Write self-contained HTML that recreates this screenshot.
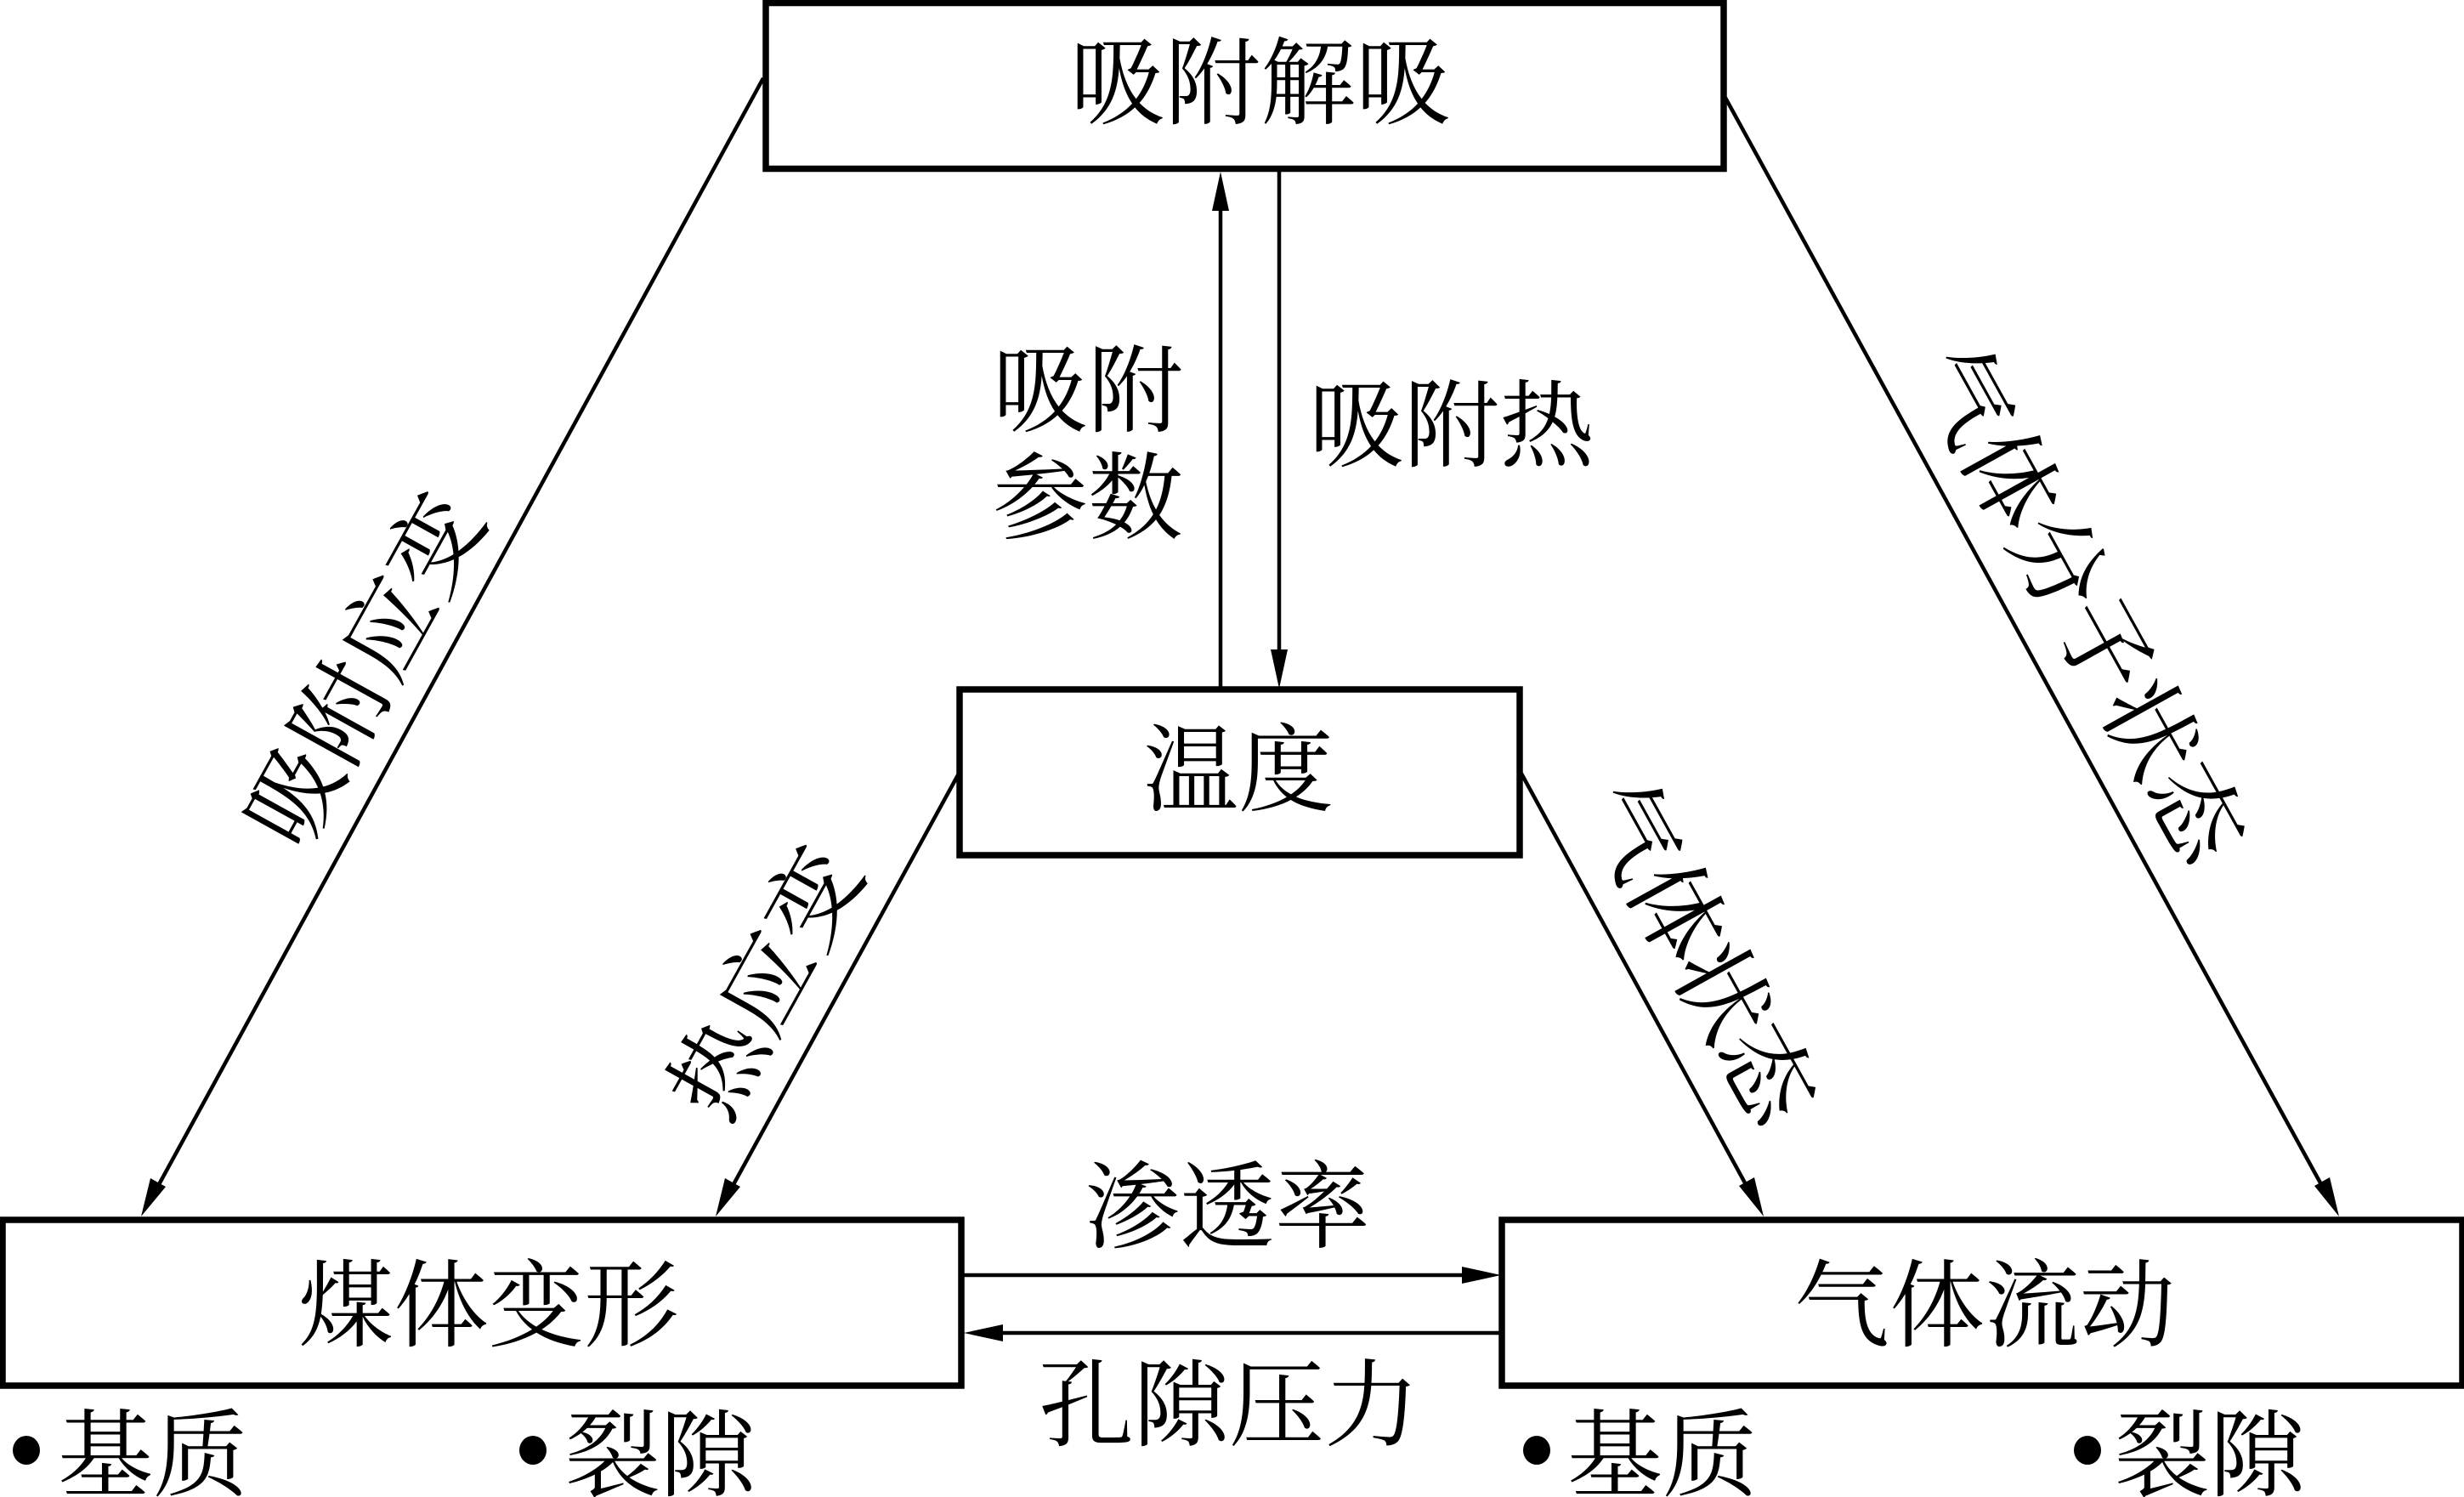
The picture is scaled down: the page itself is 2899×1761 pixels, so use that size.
<!DOCTYPE html>
<html><head><meta charset="utf-8"><style>
html,body{margin:0;padding:0;background:#fff;width:2899px;height:1761px;overflow:hidden}
svg{display:block}
text{font-family:"Liberation Serif","Noto Serif CJK SC",serif;font-size:112px;fill:#000;text-anchor:middle;dominant-baseline:central}
</style></head><body>
<svg width="2899" height="1761" viewBox="0 0 2899 1761" xmlns="http://www.w3.org/2000/svg">
<g fill="none" stroke="#000" stroke-width="7.5">
<rect x="901" y="3.5" width="1127" height="195"/>
<rect x="1129" y="811" width="659" height="195"/>
<rect x="3" y="1435" width="1128" height="195"/>
<rect x="1767" y="1435" width="1130" height="195"/>
</g>
<g stroke="#000" stroke-width="4.5" fill="none">
<line x1="1436" y1="240" x2="1436" y2="811"/>
<line x1="1505" y1="200" x2="1505" y2="775"/>
<line x1="898" y1="92" x2="185" y2="1397"/>
<line x1="1128" y1="910" x2="861" y2="1397"/>
<line x1="2030" y1="115" x2="2733" y2="1397"/>
<line x1="1790" y1="910" x2="2056" y2="1397"/>
<line x1="1134" y1="1500" x2="1730" y2="1500"/>
<line x1="1766" y1="1568" x2="1170" y2="1568"/>
</g>
<g fill="#000">
<polygon points="1436,202 1426,248 1446,248"/>
<polygon points="1505,810 1495,764 1515,764"/>
<polygon points="166,1431 177,1386 195,1396"/>
<polygon points="842,1431 853,1386 871,1396"/>
<polygon points="2752,1431 2723,1395 2741,1385"/>
<polygon points="2075,1431 2046,1395 2064,1385"/>
<polygon points="1766,1500 1720,1490 1720,1510"/>
<polygon points="1134,1568 1180,1558 1180,1578"/>
<ellipse cx="31" cy="1706" rx="16" ry="17"/>
<ellipse cx="627" cy="1706" rx="16" ry="17"/>
<ellipse cx="1808" cy="1706" rx="16" ry="17"/>
<ellipse cx="2456" cy="1706" rx="16" ry="17"/>
</g>
<text x="1483" y="100">吸附解吸</text>
<text x="1280" y="462">吸附</text>
<text x="1280" y="588">参数</text>
<text x="1708" y="503">吸附热</text>
<text x="1457" y="908">温度</text>
<text x="575" y="1538">煤体变形</text>
<text x="2335" y="1538">气体流动</text>
<text x="1444" y="1422">渗透率</text>
<text x="1446" y="1655">孔隙压力</text>
<text x="180" y="1714">基质</text>
<text x="777" y="1714">裂隙</text>
<text x="1956" y="1714">基质</text>
<text x="2600" y="1714">裂隙</text>
<text transform="translate(432 789) rotate(-61)" letter-spacing="1">吸附应变</text>
<text transform="translate(904 1156) rotate(-61)" letter-spacing="3">热应变</text>
<text transform="translate(2446 712) rotate(61)">气体分子状态</text>
<text transform="translate(1997 1120) rotate(61)" letter-spacing="-3">气体状态</text>
</svg>
</body></html>
